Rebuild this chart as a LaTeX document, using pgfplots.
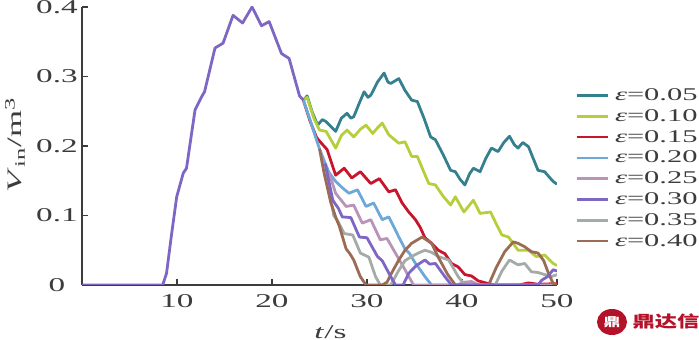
\documentclass[border=0pt]{standalone}
\usepackage{pgfplots}
\pgfplotsset{compat=1.18}
\usepackage{pgfplotstable}
\usepackage{fontspec}
\setmainfont{Liberation Serif}[FakeStretch=1.7]
\newfontfamily\cjk{Noto Sans CJK SC}[FakeStretch=1.4]

\definecolor{c005}{HTML}{35808E}
\definecolor{c010}{HTML}{B5CF3C}
\definecolor{c015}{HTML}{C8142C}
\definecolor{c020}{HTML}{6EA8D8}
\definecolor{c025}{HTML}{B894B8}
\definecolor{c030}{HTML}{7E66C4}
\definecolor{c035}{HTML}{A3ACA6}
\definecolor{c040}{HTML}{9C6B55}
\definecolor{axgray}{HTML}{3C3C3C}

% common rising part (identical for all eps)
\pgfplotstableread{
t y
0 0
8.5 0
8.9 0.017
9.4 0.07
9.97 0.127
10.66 0.161
11.0 0.168
11.9 0.252
12.6 0.271
12.9 0.278
14.0 0.341
14.85 0.348
15.9 0.388
16.9 0.377
17.9 0.400
18.9 0.373
19.7 0.379
21.0 0.333
21.8 0.326
22.9 0.272
23.3 0.266
}\common

\pgfplotstableread{
t y
23.3 0.266
23.7 0.272
24.2 0.250
24.8 0.230
25.3 0.238
25.7 0.235
26.7 0.221
27.3 0.240
27.9 0.247
28.3 0.240
28.6 0.242
29.2 0.262
29.7 0.278
30.1 0.270
30.4 0.273
31.1 0.292
31.8 0.305
32.2 0.292
32.5 0.290
33.35 0.297
34.0 0.280
34.7 0.266
35.3 0.264
36.0 0.240
36.7 0.213
37.2 0.209
38.0 0.188
38.8 0.165
39.3 0.163
39.8 0.152
40.3 0.144
40.8 0.160
41.2 0.168
41.9 0.163
42.5 0.182
43.1 0.197
43.8 0.192
44.4 0.205
45.0 0.214
45.5 0.202
45.9 0.197
46.4 0.205
47.0 0.199
47.5 0.182
48.0 0.165
48.7 0.163
49.2 0.155
49.6 0.149
50 0.145
}\epsA

\pgfplotstableread{
t y
23.3 0.266
23.7 0.270
24.4 0.240
25.0 0.223
25.7 0.221
26.7 0.197
27.3 0.215
27.9 0.223
28.6 0.213
29.3 0.224
29.9 0.230
30.6 0.218
31.1 0.226
31.6 0.233
32.3 0.216
33.35 0.204
34.0 0.206
34.7 0.185
35.3 0.185
36.0 0.162
36.5 0.146
37.2 0.144
38.0 0.128
38.8 0.115
39.3 0.127
40.2 0.105
41.2 0.122
41.9 0.103
43.0 0.105
43.6 0.088
44.2 0.072
44.9 0.069
45.9 0.050
47.0 0.050
47.8 0.041
48.7 0.043
49.6 0.031
50 0.028
}\epsB

\pgfplotstableread{
t y
23.3 0.266
24.0 0.236
24.7 0.212
25.2 0.204
25.8 0.195
26.7 0.158
27.6 0.168
28.4 0.154
29.3 0.163
30.4 0.146
31.3 0.153
32.3 0.134
33.0 0.137
33.7 0.118
34.4 0.105
35.1 0.094
35.6 0.083
36.1 0.068
36.8 0.060
37.5 0.050
38.2 0.045
38.9 0.031
39.6 0.026
40.3 0.015
41.0 0.013
41.7 0.006
42.5 0.003
43.5 0
46.0 0
47.0 0.003
48.0 0.001
50 0.002
}\epsC

\pgfplotstableread{
t y
23.3 0.266
24.0 0.238
24.6 0.212
25.0 0.196
25.6 0.175
26.0 0.162
26.7 0.149
27.4 0.140
28.1 0.132
29.0 0.137
29.9 0.113
30.7 0.118
31.6 0.094
32.3 0.098
33.35 0.069
34.0 0.052
34.5 0.045
35.1 0.031
35.6 0.022
36.1 0.012
36.8 0
50 0
}\epsD

\pgfplotstableread{
t y
26.0 0.162
26.7 0.132
27.8 0.113
28.6 0.115
29.5 0.089
30.4 0.094
31.4 0.065
32.1 0.067
33.2 0.041
34.0 0.022
34.9 0
39.5 0
40.2 0.004
41.0 0.005
41.8 0
50 0
}\epsE

\pgfplotstableread{
t y
25.6 0.175
26.4 0.122
27.0 0.110
27.4 0.098
28.3 0.097
29.2 0.069
30.0 0.068
31.1 0.041
31.6 0.035
32.5 0.012
33.0 0
33.8 0
34.4 0.017
35.2 0.028
36.1 0.036
36.6 0.030
37.2 0.031
38.2 0.012
38.9 0
48.0 0
48.4 0.007
49.0 0.012
49.6 0.022
50 0.020
}\epsF

\pgfplotstableread{
t y
25.6 0.175
26.0 0.140
26.5 0.100
27.0 0.090
27.6 0.074
28.5 0.072
29.3 0.046
30.2 0.040
30.9 0.012
31.4 0
32.5 0
33.3 0.020
34.0 0.035
34.7 0.041
35.4 0.046
36.1 0.050
36.8 0.047
37.5 0.041
38.6 0.036
39.6 0.012
40.3 0
43.5 0
44.2 0.020
45.0 0.036
45.9 0.029
46.6 0.031
47.3 0.019
48.0 0.018
49.4 0.012
50 0.015
}\epsG

\pgfplotstableread{
t y
25.0 0.196
25.5 0.160
26.2 0.118
26.7 0.098
27.1 0.084
27.8 0.052
28.2 0.045
28.6 0.036
29.3 0.012
29.9 0
31.6 0
32.1 0.004
32.7 0.020
33.35 0.036
34.0 0.050
34.7 0.060
35.8 0.069
36.8 0.060
37.5 0.040
38.5 0.015
39.3 0
42.8 0
43.6 0.025
44.5 0.048
45.4 0.062
45.9 0.060
46.6 0.055
47.3 0.048
48.0 0.046
48.6 0.035
49.1 0.017
49.6 0.002
50 0
}\epsH

\begin{document}
\begin{tikzpicture}
\begin{axis}[
  at={(0,0)}, anchor=south west,
  scale only axis,
  width=237.5bp, height=139bp,
  xmin=0, xmax=50, ymin=0, ymax=0.4,
  axis x line*=bottom, axis y line*=left,
  axis line style={axgray, line width=0.8bp},
  xtick={10,20,30,40,50},
  ytick={0,0.1,0.2,0.3,0.4},
  yticklabels={0,0.1,0.2,0.3,0.4},
  tick align=inside,
  major tick length=3bp,
  tick style={axgray, line width=0.8bp},
  /pgf/number format/assume math mode=true,
  tick label style={font=\fontsize{9.8}{10}\selectfont, text=axgray},
  yticklabel style={anchor=center, xshift=-12.5bp},
  xticklabel style={yshift=-1bp},
  xlabel={\textit{t}/s},
  xlabel style={at={(axis description cs:0.523,0)}, anchor=center, yshift=-23.5bp, font=\fontsize{9.8}{10}\selectfont, text=axgray},
  ylabel={\textit{V}\textsubscript{in}/m\textsuperscript{3}},
  ylabel style={at={(axis description cs:-0.141,0.504)}, anchor=center, font=\fontsize{10.3}{10}\selectfont, text=axgray},
  every axis plot/.append style={line width=1.4pt, line join=round},
  legend cell align=left,
  legend image code/.code={\draw[#1] (0bp,0bp) -- (15.5bp,0bp);},
  legend style={at={(rel axis cs:1.038,0.712)}, anchor=north west,
    draw=none, fill=none, inner sep=0pt, row sep=2.4bp, column sep=3bp,
    nodes={inner sep=0pt, text height=6.5bp, text depth=1.5bp},
    font=\fontsize{9}{10}\selectfont, text=axgray},
]
\addlegendimage{c005, line width=1.3pt}\addlegendentry{\textit{ε}=0.05}
\addlegendimage{c010, line width=1.3pt}\addlegendentry{\textit{ε}=0.10}
\addlegendimage{c015, line width=1.3pt}\addlegendentry{\textit{ε}=0.15}
\addlegendimage{c020, line width=1.3pt}\addlegendentry{\textit{ε}=0.20}
\addlegendimage{c025, line width=1.3pt}\addlegendentry{\textit{ε}=0.25}
\addlegendimage{c030, line width=1.3pt}\addlegendentry{\textit{ε}=0.30}
\addlegendimage{c035, line width=1.3pt}\addlegendentry{\textit{ε}=0.35}
\addlegendimage{c040, line width=1.3pt}\addlegendentry{\textit{ε}=0.40}
\addplot[c005, forget plot] table[x=t,y=y] {\epsA};
\addplot[c010, forget plot] table[x=t,y=y] {\epsB};
\addplot[c015, forget plot] table[x=t,y=y] {\epsC};
\addplot[c020, forget plot] table[x=t,y=y] {\epsD};
\addplot[c025, forget plot] table[x=t,y=y] {\epsE};
\addplot[c035, forget plot] table[x=t,y=y] {\epsG};
\addplot[c040, forget plot] table[x=t,y=y] {\epsH};
\addplot[c030, forget plot] table[x=t,y=y] {\epsF};
\addplot[c030, forget plot] table[x=t,y=y] {\common};
\end{axis}
\fill[c015!90!black] (265bp,-18.5bp) ellipse [x radius=7.5bp, y radius=6.5bp];
\node[text=white, font=\bfseries\fontsize{6}{6}\selectfont] at (265bp,-18.5bp) {\cjk 鼎};
\node[text=c015!90!black, font=\cjk\bfseries\fontsize{8}{8}\selectfont] at (292bp,-18.5bp) {鼎达信};
\pgfresetboundingbox
\path[use as bounding box] (-41bp,-27.5bp) rectangle (308.5bp,142.5bp);
\end{tikzpicture}
\end{document}
